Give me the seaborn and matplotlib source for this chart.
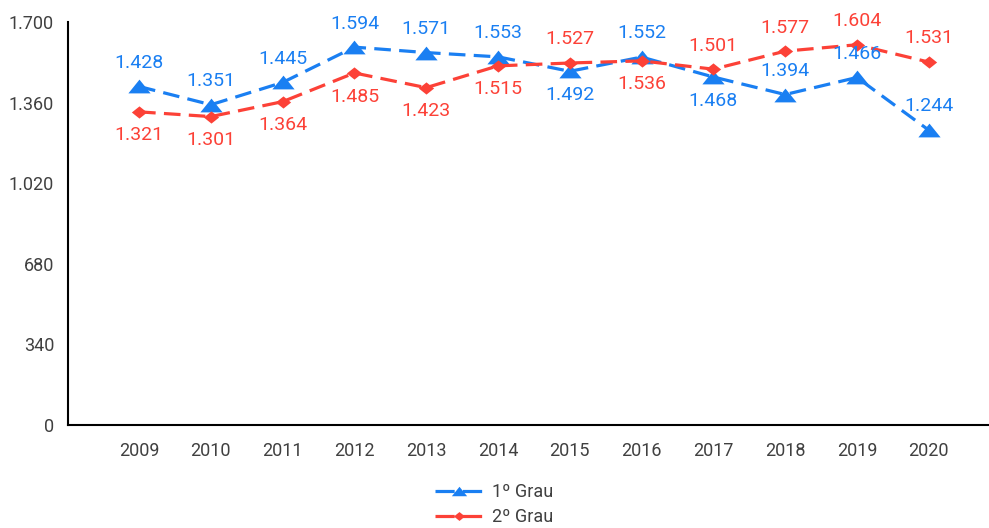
import numpy as np
import pandas as pd
import matplotlib.pyplot as plt
import seaborn as sns
import matplotlib.ticker as ticker

years = [2009, 2010, 2011, 2012, 2013, 2014, 2015, 2016, 2017, 2018, 2019, 2020]
grau1 = [1428, 1351, 1445, 1594, 1571, 1553, 1492, 1552, 1468, 1394, 1466, 1244]
grau2 = [1321, 1301, 1364, 1485, 1423, 1515, 1527, 1536, 1501, 1577, 1604, 1531]
series_names = ["1º Grau", "2º Grau"]
yticks = [0, 340, 680, 1020, 1360, 1700]
# where each value label sits: +1 above the marker, -1 below
pos1 = [1, 1, 1, 1, 1, 1, -1, 1, -1, 1, 1, 1]
pos2 = [-1, -1, -1, -1, -1, -1, 1, -1, 1, 1, 1, 1]

BLUE = "#1a7ff2"
RED = "#fc4137"
TXT = "#404040"

# flat triangle and diamond, like the original markers
TRI = [(-1, -0.62), (1, -0.62), (0, 0.62), (-1, -0.62)]
DIA = [(0, 0.8), (1, 0), (0, -0.8), (-1, 0), (0, 0.8)]
DASH = (5.2, 2.6)


def pt_fmt(v):
    # brazilian thousands separator
    return f"{int(round(v)):,}".replace(",", ".")


sns.set_style("white")
plt.rcParams["font.family"] = ["Roboto", "DejaVu Sans"]

df = pd.DataFrame({
    "Ano": years * 2,
    "Valor": grau1 + grau2,
    "Serie": [series_names[0]] * len(years) + [series_names[1]] * len(years),
})

fig = plt.figure(figsize=(9.89, 5.28), dpi=100)
ax = fig.add_axes([68 / 989, 1 - 425 / 528, 1 - 68 / 989, (425 - 22) / 528])

sns.lineplot(data=df, x="Ano", y="Valor", hue="Serie", style="Serie",
             palette=[BLUE, RED], markers=False, dashes=[DASH, DASH],
             lw=2.3, ax=ax, legend=False)
for ln, ms, mk in zip(ax.get_lines(), [16, 11], [TRI, DIA]):
    ln.set_marker(mk)
    ln.set_markersize(ms)
    ln.set_markeredgewidth(0)
    ln.set_markerfacecolor(ln.get_color())

for vals, pos, col in [(grau1, pos1, BLUE), (grau2, pos2, RED)]:
    for x, v, p in zip(years, vals, pos):
        ax.annotate(pt_fmt(v), (x, v), xytext=(0, 17 * p), textcoords="offset points",
                    ha="center", va="center", color=col, fontsize=14)

ax.set_ylim(0, 1700)
ax.set_xlim(years[0] - 0.99, years[-1] + 0.84)
ax.yaxis.set_major_locator(ticker.FixedLocator(yticks))
ax.yaxis.set_major_formatter(ticker.FuncFormatter(lambda v, p: pt_fmt(v)))
ax.set_xticks(years)
ax.set_xticklabels([str(y) for y in years])
ax.set_xlabel("")
ax.set_ylabel("")
ax.tick_params(axis="both", direction="out", length=5, width=1.5, colors="black",
               labelcolor=TXT, labelsize=13)
ax.tick_params(axis="x", pad=7)
ax.tick_params(axis="y", pad=5)
for s in ["top", "right"]:
    ax.spines[s].set_visible(False)
for s in ["left", "bottom"]:
    ax.spines[s].set_color("black")
    ax.spines[s].set_linewidth(1.5)

# legend handle: one dash, marker, one dash
handles = [plt.Line2D([], [], color=BLUE, lw=2.3, dashes=(6.0, 2.6), marker=TRI, markersize=11, markeredgewidth=0),
           plt.Line2D([], [], color=RED, lw=2.3, dashes=(6.0, 2.6), marker=DIA, markersize=8, markeredgewidth=0)]
leg = fig.legend(handles, series_names, loc="upper center", bbox_to_anchor=(0.5, 0.102),
                 frameon=False, fontsize=13, handlelength=2.65, handletextpad=0.5,
                 labelspacing=0.4, borderpad=0)
for t in leg.get_texts():
    t.set_color(TXT)

fig.savefig("out.png", dpi=100)
